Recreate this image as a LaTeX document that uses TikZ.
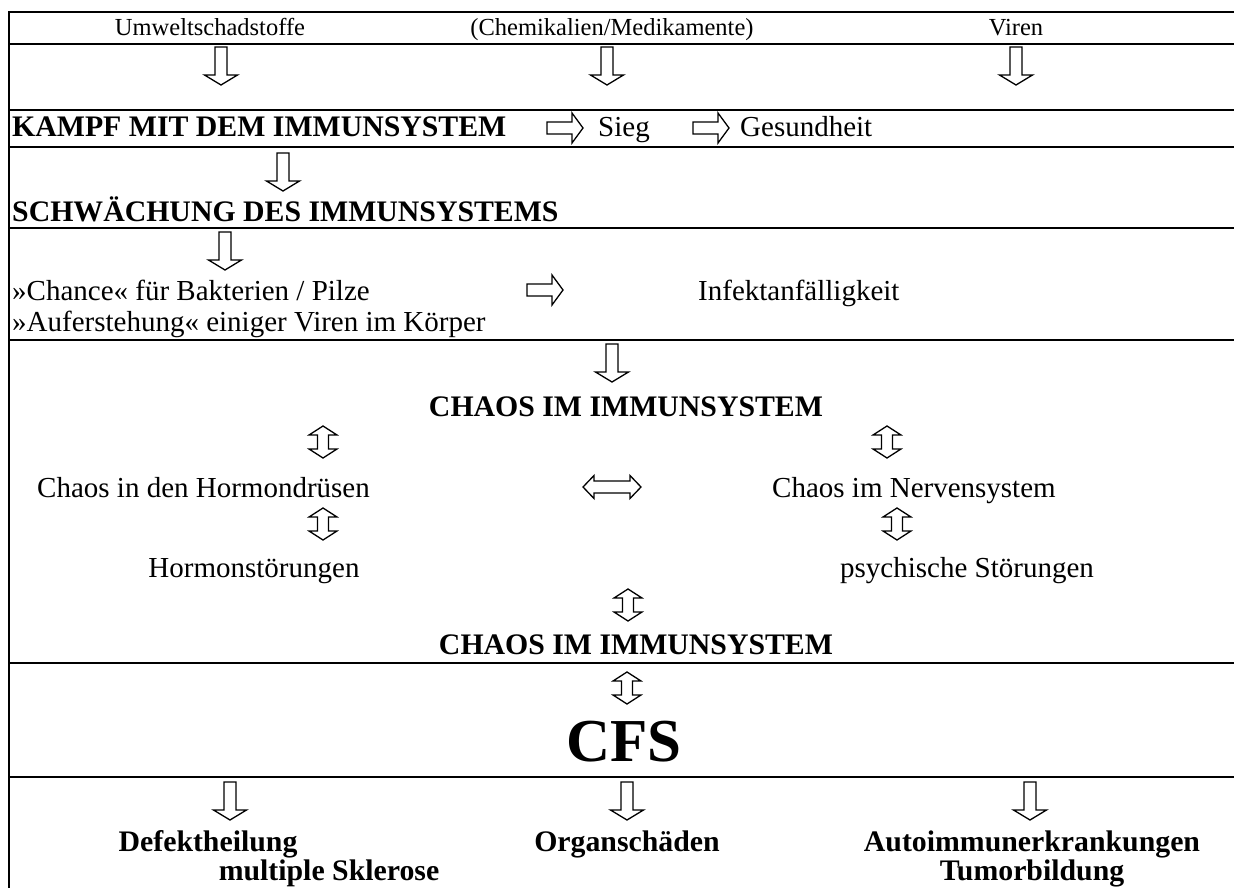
\documentclass[tikz,border=0pt]{standalone}
\usepackage{fontspec}
\setmainfont{Liberation Serif}
\begin{document}
\begin{tikzpicture}[x=1pt,y=-1pt,
  rule/.style={line width=2.4pt},
  arrowline/.style={line width=1.3pt, line join=miter, fill=white},
  txt/.style={font=\fontsize{29}{34}\selectfont, inner sep=0pt, anchor=base west},
  txtc/.style={txt, anchor=base},
  btxt/.style={txt, font=\fontsize{29.8}{34}\selectfont\bfseries},
  btxtc/.style={btxt, anchor=base},
  small/.style={font=\fontsize{24.5}{28}\selectfont, inner sep=0pt, anchor=base},
  big/.style={font=\fontsize{61}{70}\selectfont\bfseries, inner sep=0pt, anchor=base},
  downarr/.pic={\draw[arrowline] (-6,0) -- (6,0) -- (6,28) -- (16.5,28) -- (0,38) -- (-16.5,28) -- (-6,28) -- cycle;},
  rightarr/.pic={\draw[arrowline] (0,-6) -- (25,-6) -- (25,-15) -- (36,0) -- (25,15) -- (25,6) -- (0,6) -- cycle;},
  udarr/.pic={\draw[arrowline] (-5.5,9) -- (-14,9) -- (0,0) -- (14,9) -- (5.5,9) -- (5.5,23) -- (14,23) -- (0,32) -- (-14,23) -- (-5.5,23) -- cycle;},
  lrarr/.pic={\draw[arrowline] (0,0) -- (11,-11.5) -- (11,-6) -- (47,-6) -- (47,-11.5) -- (58,0) -- (47,11.5) -- (47,6) -- (11,6) -- (11,11.5) -- cycle;}
]
\useasboundingbox (0,0) rectangle (1234,888);
% frame lines
\coordinate (L0) at (9,12);
\coordinate (LB) at (9,888);
\draw[rule] (L0) -- (LB);
\foreach \yy in {12,44,110,147,228,340,663,777}
  \draw[rule] (8,\yy) -- (1234,\yy);

% row 1
\node[small] (u) at (210,36) {Umweltschadstoffe};
\node[small] (c) at (612,36) {(Chemikalien/Medikamente)};
\node[small] (v) at (1016,36) {Viren};
\pic at (221,47) {downarr};
\pic at (607,47) {downarr};
\pic at (1016,47) {downarr};

% Kampf row
\node[btxt] (kampf) at (12,137) {KAMPF MIT DEM IMMUNSYSTEM};
\pic at (547,128) {rightarr};
\node[txt] (sieg) at (598,137) {Sieg};
\pic at (693,128) {rightarr};
\node[txt] (ges) at (740,137) {Gesundheit};

\pic at (283,153) {downarr};
\node[btxt] (schw) at (12,221) {SCHWÄCHUNG DES IMMUNSYSTEMS};

\pic at (225,232) {downarr};
\node[txt] (chance) at (12,300) {»Chance« für Bakterien / Pilze};
\pic at (527,290) {rightarr};
\node[txt] (infekt) at (698,300) {Infektanfälligkeit};
\node[txt] (auf) at (12,331) {»Auferstehung« einiger Viren im Körper};

\pic at (612,344) {downarr};
\node[btxtc] (chaos1) at (626,416) {CHAOS IM IMMUNSYSTEM};
\pic at (323,426) {udarr};
\pic at (887,426) {udarr};
\node[txt] (horm) at (37,497) {Chaos in den Hormondrüsen};
\pic at (583,487) {lrarr};
\node[txt] (nerv) at (772,497) {Chaos im Nervensystem};
\pic at (323,508) {udarr};
\pic at (897,508) {udarr};
\node[txtc] (hst) at (254,577) {Hormonstörungen};
\node[txt] (psy) at (840,577) {psychische Störungen};
\pic at (628,589) {udarr};
\node[btxtc] (chaos2) at (636,654) {CHAOS IM IMMUNSYSTEM};

\pic at (627,672) {udarr};
\node[big] (cfs) at (624,761) {CFS};

\pic at (230,782) {downarr};
\pic at (627,782) {downarr};
\pic at (1030,782) {downarr};
\node[btxtc] (def) at (208,851) {Defektheilung};
\node[btxtc] (org) at (627,851) {Organschäden};
\node[btxtc] (auto) at (1032,851) {Autoimmunerkrankungen};
\node[btxtc] (ms) at (329,880) {multiple Sklerose};
\node[btxtc] (tum) at (1032,880) {Tumorbildung};
\end{tikzpicture}
\end{document}
